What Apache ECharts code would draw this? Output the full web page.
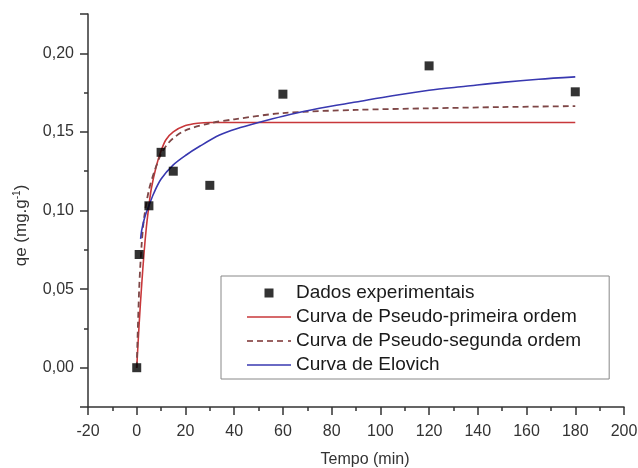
<!DOCTYPE html>
<html>
<head>
<meta charset="utf-8">
<script src="https://cdn.jsdelivr.net/npm/echarts@6/dist/echarts.min.js"></script>
<style>
  html, body { margin: 0; padding: 0; background: #ffffff; }
  #chart { width: 638px; height: 468px; }
</style>
</head>
<body>
<div id="chart"></div>
<script>
// valores (tempo em min, qe em mg/g)
const tempoExp = [0, 1, 5, 10, 15, 30, 60, 120, 180];
const qeExp = [0.000, 0.072, 0.103, 0.137, 0.125, 0.116, 0.174, 0.192, 0.1755];

const tempoPrimeira = [0, 1, 2, 3, 4, 5, 6, 8, 10, 12, 15, 20, 25, 30, 60, 120, 180];
const qePrimeira = [0, 0.028, 0.052, 0.073, 0.090, 0.103, 0.114, 0.128, 0.138, 0.145, 0.150, 0.154, 0.1555, 0.156, 0.156, 0.156, 0.156];

const tempoSegunda = [0, 1, 2, 3, 5, 7.5, 10, 12.5, 15, 20, 30, 40, 60, 90, 120, 150, 180];
const qeSegunda = [0, 0.050, 0.078, 0.095, 0.113, 0.126, 0.136, 0.142, 0.146, 0.151, 0.1555, 0.158, 0.162, 0.164, 0.165, 0.1658, 0.1664];

const tempoElovich = [1.6, 2, 3, 4, 5, 7, 10, 15, 20, 26, 34, 41, 50, 60, 75, 90, 105, 120, 135, 150, 165, 180];
const qeElovich = [0.082, 0.087, 0.094, 0.099, 0.103, 0.111, 0.120, 0.129, 0.135, 0.141, 0.148, 0.152, 0.156, 0.160, 0.165, 0.169, 0.173, 0.1765, 0.179, 0.1815, 0.1835, 0.185];

const nomes = ['Dados experimentais', 'Curva de Pseudo-primeira ordem', 'Curva de Pseudo-segunda ordem', 'Curva de Elovich'];

// icones da legenda (quadrado, linha continua, linha tracejada)
const iconeQuadrado = 'path://M0,0M44,14M17.5,2.5h9v9h-9z';
const iconeLinha = 'path://M0,6.2h44v1.6H0z';
const iconeTracejado = 'path://M0,6.1h6v1.8H0zM10,6.1h6v1.8h-6zM20,6.1h6v1.8h-6zM30,6.1h6v1.8h-6zM41,6.1h3v1.8h-3z';

function pares(xs, ys) {
    return xs.map((x, i) => [x, ys[i]]);
}

const chartDom = document.getElementById('chart');
const myChart = echarts.init(chartDom);

const eixo = {
    axisLine: {
        onZero: false,
        lineStyle: {
            color: '#333333',
            width: 1.5
        }
    },
    axisTick: {
        length: 8,
        lineStyle: {
            color: '#333333',
            width: 1.5
        }
    },
    minorTick: {
        show: true,
        splitNumber: 2,
        length: 4,
        lineStyle: {
            color: '#333333',
            width: 1.5
        }
    },
    splitLine: {
        show: false
    }
};

const option = {
    animation: false,
    grid: {
        left: 88,
        right: 14,
        top: 14,
        bottom: 61,
        outerBoundsMode: 'none'
    },
    xAxis: Object.assign({}, eixo, {
        type: 'value',
        min: -20,
        max: 200,
        interval: 20,
        name: 'Tempo (min)',
        nameLocation: 'middle',
        nameGap: 45,
        nameTextStyle: {
            color: '#333333',
            fontSize: 16,
            fontFamily: 'Liberation Sans',
            padding: [0, 0, 0, 18]
        },
        axisLabel: {
            color: '#333333',
            fontSize: 16,
            fontFamily: 'Liberation Sans',
            margin: 17
        }
    }),
    yAxis: Object.assign({}, eixo, {
        type: 'value',
        min: -0.025,
        max: 0.225,
        splitNumber: 5,
        name: 'qe (mg.g{sup|-1})',
        nameLocation: 'middle',
        nameGap: 58,
        nameTextStyle: {
            color: '#333333',
            fontSize: 17,
            fontFamily: 'Liberation Sans',
            padding: [0, 30, 0, 0],
            rich: {
                sup: {
                    fontSize: 10,
                    fontFamily: 'Liberation Sans',
                    color: '#333333',
                    verticalAlign: 'top',
                    padding: [0, 0, 8, 0]
                }
            }
        },
        axisLabel: {
            color: '#333333',
            fontSize: 16,
            fontFamily: 'Liberation Sans',
            margin: 14,
            showMinLabel: false,
            showMaxLabel: false,
            formatter: function (v) {
                return v.toFixed(2).replace('.', ',');
            }
        }
    }),
    legend: {
        orient: 'vertical',
        left: 221,
        top: 276,
        padding: [7, 28, 4, 26],
        itemWidth: 44,
        itemHeight: 14,
        itemGap: 4,
        backgroundColor: '#ffffff',
        borderColor: '#888888',
        borderWidth: 1,
        textStyle: {
            color: '#1a1a1a',
            fontSize: 19,
            fontFamily: 'Liberation Sans',
            lineHeight: 20
        },
        data: [
            { name: nomes[0], icon: iconeQuadrado },
            { name: nomes[1], icon: iconeLinha },
            { name: nomes[2], icon: iconeTracejado },
            { name: nomes[3], icon: iconeLinha }
        ]
    },
    series: [
        {
            name: nomes[1],
            type: 'line',
            data: pares(tempoPrimeira, qePrimeira),
            symbol: 'none',
            smooth: 0.3,
            lineStyle: {
                color: '#c8373a',
                width: 1.6
            },
            itemStyle: {
                color: '#c8373a'
            }
        },
        {
            name: nomes[2],
            type: 'line',
            data: pares(tempoSegunda, qeSegunda),
            symbol: 'none',
            smooth: 0.3,
            lineStyle: {
                color: '#7e4646',
                width: 1.8,
                type: [6, 4]
            },
            itemStyle: {
                color: '#9a6262'
            }
        },
        {
            name: nomes[3],
            type: 'line',
            data: pares(tempoElovich, qeElovich),
            symbol: 'none',
            smooth: 0.3,
            lineStyle: {
                color: '#3838b0',
                width: 1.6
            },
            itemStyle: {
                color: '#3838b0'
            }
        },
        {
            name: nomes[0],
            type: 'scatter',
            data: pares(tempoExp, qeExp),
            symbol: 'rect',
            symbolSize: 9,
            z: 5,
            itemStyle: {
                color: '#000000'
            }
        }
    ]
};

myChart.setOption(option);
</script>
</body>
</html>
